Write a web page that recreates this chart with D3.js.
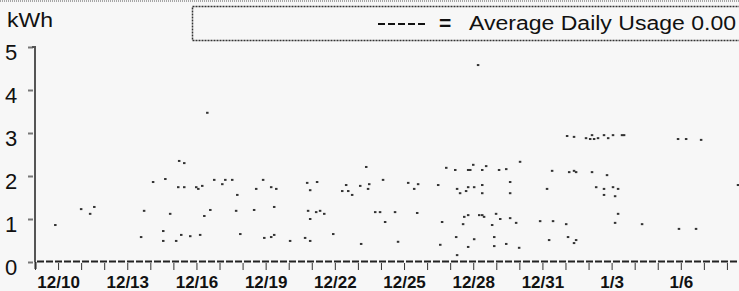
<!DOCTYPE html>
<html>

<head>
  <meta charset="utf-8">
  <script src="https://d3js.org/d3.v7.min.js"></script>
  <style>
    html, body { margin: 0; padding: 0; background: #f7f7f7; }
    svg { display: block; font-family: "Liberation Sans", Arial, sans-serif; }
  </style>
</head>

<body>
  <svg width="739" height="291"></svg>
  <script>
    // hourly readings: day offset from 12/9 and kWh
    const dayOffset = [
      0.87, 1.99, 2.38, 2.56, 4.59, 4.72, 5.11, 5.55, 5.55, 5.64, 5.85, 6.11, 6.24, 6.46, 6.20, 6.46,
      6.33, 6.72, 7.15, 6.98, 7.07, 7.24, 7.33, 7.59, 7.46, 7.76, 8.11, 8.24, 8.54, 8.76, 8.71, 8.89,
      9.49, 9.58, 9.88, 9.93, 10.23, 10.23, 10.36, 10.45, 10.36, 11.05, 11.70, 11.92, 11.79, 11.92,
      12.22, 11.83, 11.92, 12.18, 12.35, 12.53, 12.92, 13.31, 13.48, 13.57, 13.74, 14.09, 14.35, 14.48,
      14.43, 14.13, 14.74, 14.95, 15.17, 15.08, 15.60, 15.73, 16.17, 16.43, 16.60, 16.56, 17.47, 17.64,
      17.56, 17.82, 18.21, 18.25, 18.29, 18.29, 18.42, 18.68, 18.77, 19.03, 18.77, 18.86, 18.99, 18.60,
      18.77, 18.55, 18.77, 19.03, 19.25, 19.38, 19.46, 19.38, 19.55, 19.38, 19.38, 19.20, 19.81, 19.90,
      19.90, 19.98, 20.16, 20.11, 20.42, 20.42, 20.59, 20.59, 20.59, 20.85, 20.98, 21.02, 21.89, 22.19,
      22.41, 22.45, 22.28, 23.02, 23.10, 23.36, 23.15, 23.36, 23.06, 23.36, 23.88, 24.06, 24.14, 24.23,
      24.40, 24.66, 24.84, 25.05, 25.44, 25.53, 27.87, 28.22, 28.87, 23.45, 24.14, 24.79, 24.32, 24.66,
      24.66, 25.05, 25.27, 25.14, 25.27, 25.14, 26.31, 27.91, 28.65, 30.47, 23.45
    ];
    const kwh = [
      0.86, 1.23, 1.12, 1.28, 0.58, 1.19, 1.86, 0.72, 0.49, 1.93, 1.12, 0.49, 2.35, 2.30, 1.74, 1.74,
      0.63, 0.60, 0.63, 1.74, 1.70, 1.77, 1.07, 1.21, 3.47, 1.91, 1.81, 1.91, 1.91, 1.56, 1.19, 0.65,
      1.21, 1.70, 1.91, 0.56, 1.74, 0.58, 0.63, 1.70, 1.28, 0.49, 0.56, 0.49, 1.84, 1.67,
      1.86, 1.19, 1.00, 1.16, 1.19, 1.12, 0.65, 1.65, 1.79, 1.65, 1.56, 1.77, 2.21, 1.81,
      1.70, 0.42, 1.16, 1.16, 0.93, 1.91, 1.16, 0.47, 1.84, 1.70, 1.81, 1.14, 1.79, 0.93,
      0.40, 2.19, 2.14, 0.58, 0.16, 1.70, 1.60, 1.65, 1.74, 1.74, 2.14, 2.14, 2.26, 1.05,
      1.09, 0.88, 0.35, 0.53, 1.09, 1.09, 1.05, 2.14, 2.23, 1.79, 1.60, 4.58, 0.86, 0.58,
      0.37, 1.12, 1.00, 2.14, 2.16, 0.42, 1.86, 1.60, 1.02, 0.91, 0.33, 2.33, 0.95, 1.70,
      2.12, 0.95, 0.51, 0.88, 0.58, 0.44, 2.09, 2.12, 2.93, 2.91, 2.88, 2.86, 2.95, 2.86,
      2.88, 2.95, 2.88, 2.95, 2.95, 2.95, 2.86, 2.86, 2.84, 2.09, 2.09, 2.02, 1.74, 1.70,
      1.56, 1.74, 1.70, 1.53, 1.12, 0.91, 0.88, 0.77, 0.77, 1.79, 0.51
    ];
    const tickLabels = ["12/10", "12/13", "12/16", "12/19", "12/22", "12/25", "12/28", "12/31", "1/3", "1/6"];
    const yTicks = [0, 1, 2, 3, 4, 5];
    const legendText = "Average Daily Usage 0.00";

    const svg = d3.select("svg");
    const width = +svg.attr("width");

    const start = new Date(2008, 11, 9);
    const dayMs = 86400000;
    const toDate = d => new Date(start.getTime() + d * dayMs);
    const points = dayOffset.map((d, i) => ({ date: toDate(d), v: kwh[i] }));

    const x = d3.scaleTime()
      .domain([start, d3.timeDay.offset(start, 31)])
      .range([35, 750]);
    const y = d3.scaleLinear().domain([0, 5]).range([262, 47]);

    // top dotted rule
    svg.append("line")
      .attr("x1", 0).attr("x2", width).attr("y1", 1).attr("y2", 1)
      .attr("stroke", "#555").attr("stroke-dasharray", "1,1");

    // legend box
    svg.append("rect")
      .attr("x", 192.5).attr("y", 6.5).attr("width", 560).attr("height", 34)
      .attr("fill", "none").attr("stroke", "#333").attr("stroke-width", 1.5)
      .attr("stroke-dasharray", "2,1");
    svg.append("line")
      .attr("x1", 378).attr("x2", 426).attr("y1", 24).attr("y2", 24)
      .attr("stroke", "#111").attr("stroke-width", 2).attr("stroke-dasharray", "7,3");
    svg.append("text")
      .attr("x", 439).attr("y", 30)
      .attr("font-size", 21).attr("font-weight", "bold")
      .attr("fill", "#111")
      .text("=");
    svg.append("text")
      .attr("x", 469).attr("y", 30)
      .attr("font-size", 20)
      .attr("textLength", 267).attr("lengthAdjust", "spacingAndGlyphs")
      .attr("fill", "#111")
      .text(legendText);

    svg.append("text")
      .attr("x", 7).attr("y", 27)
      .attr("font-size", 20)
      .attr("textLength", 46).attr("lengthAdjust", "spacingAndGlyphs")
      .attr("fill", "#111")
      .text("kWh");

    // y axis
    const yAxis = svg.append("g")
      .attr("transform", "translate(35,0)")
      .call(d3.axisLeft(y).tickValues(yTicks).tickSize(5).tickPadding(11).tickFormat(d3.format("d")));
    yAxis.select(".domain").remove();
    yAxis.selectAll(".tick line").attr("stroke", "#777").attr("stroke-width", 2)
      .attr("transform", "translate(-2,0)");
    yAxis.selectAll(".tick text")
      .attr("font-size", 22).attr("fill", "#111")
      .attr("font-family", "'Liberation Sans', Arial, sans-serif")
      .attr("x", -30).attr("text-anchor", "start").attr("dy", "0.55em");
    svg.append("path")
      .attr("d", `M32,${y(5)}H35V${y(0)}`)
      .attr("fill", "none").attr("stroke", "#555").attr("stroke-width", 2);

    // x axis
    const xAxis = svg.append("g")
      .attr("transform", "translate(0,262)")
      .call(d3.axisBottom(x)
        .ticks(d3.timeDay.every(1))
        .tickSize(8)
        .tickPadding(6)
        .tickFormat(d => {
          const lab = d3.timeFormat("%-m/%-d")(d);
          return tickLabels.includes(lab) ? lab : "";
        }));
    xAxis.select(".domain")
      .attr("stroke", "#222").attr("stroke-width", 2).attr("stroke-dasharray", "7,2")
      .attr("transform", "translate(0,-1)");
    xAxis.selectAll(".tick line").attr("stroke", "#333").attr("stroke-width", 1)
      .attr("y1", 1);
    xAxis.selectAll(".tick text")
      .attr("font-size", 17).attr("font-weight", "bold").attr("fill", "#111")
      .attr("font-family", "'Liberation Sans', Arial, sans-serif");

    // readings
    svg.append("g")
      .selectAll("rect")
      .data(points)
      .join("rect")
      .attr("x", d => x(d.date) - 1)
      .attr("y", d => y(d.v) - 1)
      .attr("width", 2.5)
      .attr("height", 2)
      .attr("fill", "#333");
  </script>

</body>

</html>
